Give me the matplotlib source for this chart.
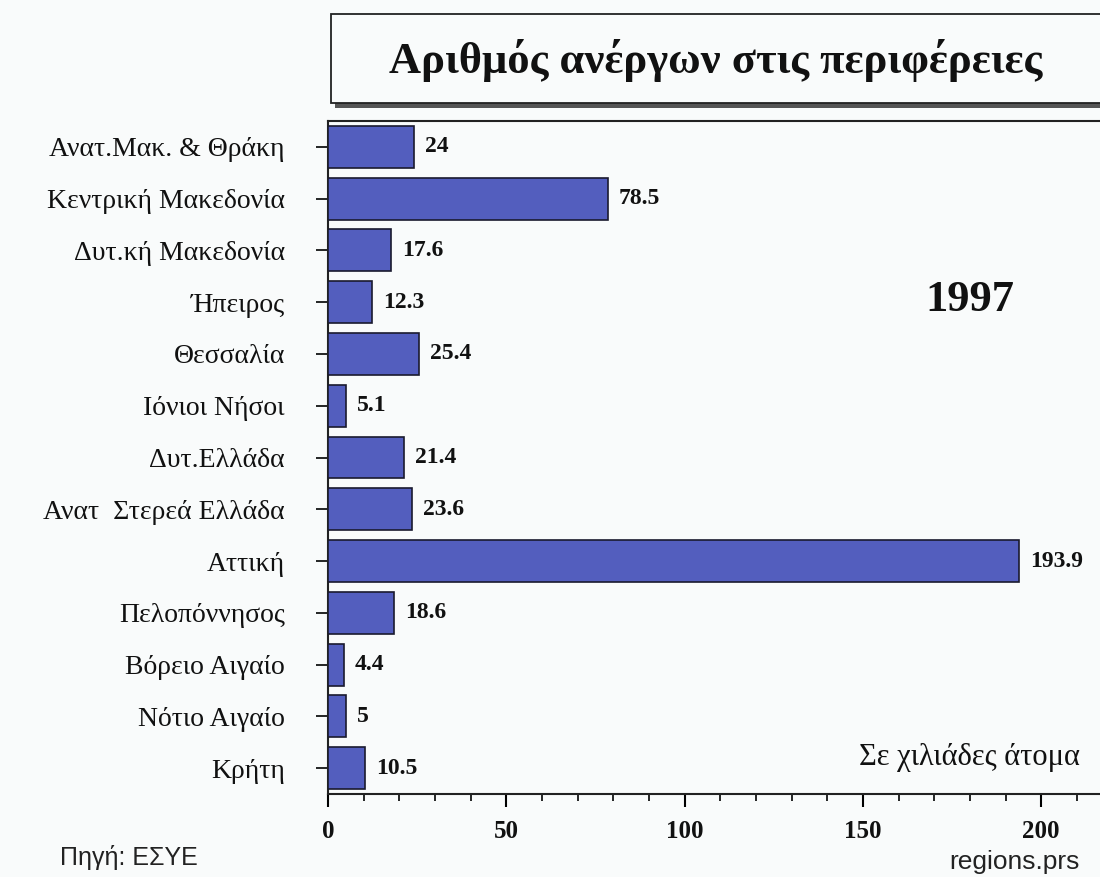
import numpy as np
import matplotlib
matplotlib.use('Agg')
import matplotlib.pyplot as plt
from matplotlib.patches import Rectangle
from matplotlib.ticker import MultipleLocator

# data
regions = ['Ανατ.Μακ. & Θράκη', 'Κεντρική Μακεδονία', 'Δυτ.κή Μακεδονία', 'Ήπειρος',
           'Θεσσαλία', 'Ιόνιοι Νήσοι', 'Δυτ.Ελλάδα', 'Ανατ  Στερεά Ελλάδα', 'Αττική',
           'Πελοπόννησος', 'Βόρειο Αιγαίο', 'Νότιο Αιγαίο', 'Κρήτη']
values = [24, 78.5, 17.6, 12.3, 25.4, 5.1, 21.4, 23.6, 193.9, 18.6, 4.4, 5, 10.5]
value_labels = ['24', '78.5', '17.6', '12.3', '25.4', '5.1', '21.4', '23.6', '193.9',
                '18.6', '4.4', '5', '10.5']
xticks = [0, 50, 100, 150, 200]

W, H = 1100, 877
BG = '#f9fbfb'
BAR = '#535ebe'
SERIF = ['Liberation Serif', 'DejaVu Serif']
SANS = ['Liberation Sans', 'DejaVu Sans']

fig = plt.figure(figsize=(W / 100, H / 100), dpi=100)
fig.patch.set_facecolor(BG)

def fx(px):
    return px / W

def fy(py):
    return 1 - py / H

ax = fig.add_axes([fx(328), fy(794), 1 - fx(328), fy(121) - fy(794)])
ax.set_facecolor(BG)

ypos = np.arange(len(regions))
ax.barh(ypos, values, height=0.81, color=BAR, edgecolor='#1a1a2e', linewidth=1.2, zorder=3)
ax.set_ylim(len(regions) - 0.5, -0.5)
ax.set_xlim(0, 216.5)

for y, v, lab in zip(ypos, values, value_labels):
    ax.annotate(lab, xy=(v, y), xytext=(8, 0), textcoords='offset points',
                ha='left', va='center', fontsize=17, fontweight='bold',
                family=SERIF, color='#111111')

ax.set_yticks(ypos)
ax.set_yticklabels(regions, family=SERIF, fontsize=20, color='#111111')
ax.set_xticks(xticks)
ax.set_xticklabels([str(t) for t in xticks], family=SERIF, fontsize=18,
                   fontweight='bold', color='#111111')
ax.xaxis.set_minor_locator(MultipleLocator(10))
ax.tick_params(axis='y', length=9, width=1.2, pad=22, direction='out')
ax.tick_params(axis='x', which='major', length=9, width=1.5, pad=10, direction='out')
ax.tick_params(axis='x', which='minor', length=5, width=1.2, direction='out')

for s in ['left', 'bottom', 'top']:
    ax.spines[s].set_linewidth(1.5)
    ax.spines[s].set_color('#222222')
ax.spines['right'].set_visible(False)

fig.text(fx(970), fy(300), '1997', ha='center', va='center',
         fontsize=32, fontweight='bold', family=SERIF, color='#111111')
fig.text(fx(1080), fy(757), 'Σε χιλιάδες άτομα', ha='right',
         va='center', fontsize=22, family=SERIF, color='#111111')

# title box with shadow
fig.add_artist(Rectangle((fx(335), fy(108)), 1.0, fy(18) - fy(108),
                         transform=fig.transFigure, facecolor='#555555',
                         edgecolor='none', zorder=1))
fig.add_artist(Rectangle((fx(331), fy(103)), 1.0, fy(14) - fy(103),
                         transform=fig.transFigure, facecolor=BG,
                         edgecolor='#222222', linewidth=1.3, zorder=2))
fig.text(fx(716), fy(60), 'Αριθμός ανέργων στις περιφέρειες', ha='center',
         va='center', fontsize=32, fontweight='bold', family=SERIF,
         color='#111111', zorder=3)

fig.text(fx(60), fy(858), 'Πηγή: ΕΣΥΕ', ha='left', va='center', fontsize=18,
         family=SANS, color='#222222')
fig.text(fx(1080), fy(862), 'regions.prs', ha='right', va='center', fontsize=19,
         family=SANS, color='#222222')

plt.savefig('out.png', dpi=100, facecolor=BG)
